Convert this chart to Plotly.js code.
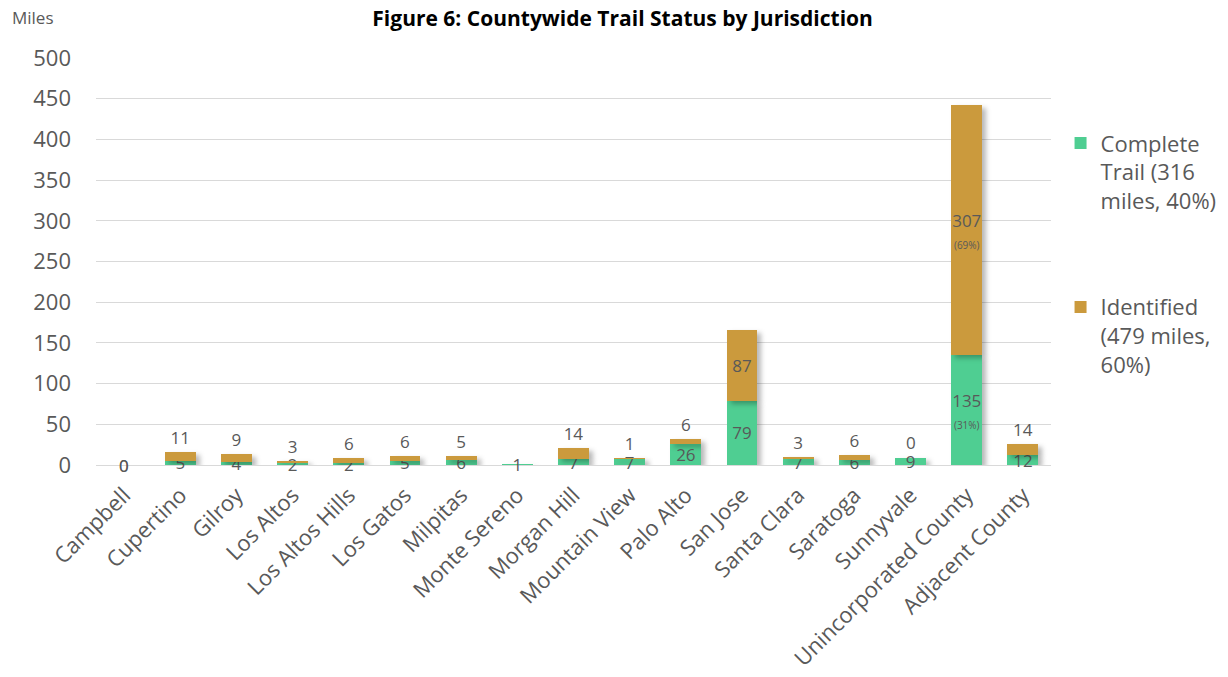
<!DOCTYPE html>
<html>
<head>
<meta charset="utf-8">
<script src="https://cdn.plot.ly/plotly-3.0.1.min.js"></script>
<style>
  html, body { margin: 0; padding: 0; background: #fff; }
  #chart { width: 1228px; height: 677px; }
  /* soft drop shadow behind every bar segment */
  #chart .barlayer .point path { filter: drop-shadow(4px 3px 2.5px rgba(0, 0, 0, 0.28)); }
</style>
</head>
<body>
<div id="chart"></div>
<script>
// Trail miles by jurisdiction
const jurisdictions = [
  'Campbell', 'Cupertino', 'Gilroy', 'Los Altos', 'Los Altos Hills', 'Los Gatos',
  'Milpitas', 'Monte Sereno', 'Morgan Hill', 'Mountain View', 'Palo Alto',
  'San Jose', 'Santa Clara', 'Saratoga', 'Sunnyvale', 'Unincorporated County',
  'Adjacent County'
];
const completeMiles   = [0, 5, 4, 2, 2, 5, 6, 1, 7, 7, 26, 79, 7, 6, 9, 135, 12];
const identifiedMiles = [0, 11, 9, 3, 6, 6, 5, 0, 14, 1, 6, 87, 3, 6, 0, 307, 14];
// segments whose label is left blank
const identifiedHidden = [false, false, false, false, false, false, false, true, false,
  false, false, false, false, false, false, false, false];
// share notes printed under a value
const completeShare   = ['', '', '', '', '', '', '', '', '', '', '', '', '', '', '', '(31%)', ''];
const identifiedShare = ['', '', '', '', '', '', '', '', '', '', '', '', '', '', '', '(69%)', ''];
const seriesNames = ['Complete<br>Trail (316<br>miles, 40%)', 'Identified<br>(479 miles,<br>60%)'];
const yTicks = [0, 50, 100, 150, 200, 250, 300, 350, 400, 450, 500];

const GREEN = '#4FCE92';
const GOLD = '#CB9A3D';
const TEXT = '#595959';
const FONT = 'Open Sans, sans-serif';
const LABEL_SIZE = 17;

function labelText(values, notes, hidden) {
  return values.map((v, i) => {
    if (hidden && hidden[i]) return '';
    return notes[i] ? `${v}<br><span style="font-size:10px">${notes[i]}</span>` : `${v}`;
  });
}

const labelFont = { family: FONT, size: LABEL_SIZE, color: TEXT };

const complete = {
  type: 'bar',
  name: seriesNames[0],
  legendgroup: 'complete',
  x: jurisdictions,
  y: completeMiles,
  marker: { color: GREEN },
  text: labelText(completeMiles, completeShare),
  textposition: 'inside',
  insidetextanchor: 'middle',
  textangle: 0,
  constraintext: 'none',
  textfont: labelFont,
  insidetextfont: labelFont,
  cliponaxis: false,
  hoverinfo: 'x+y'
};

const identified = {
  type: 'bar',
  name: seriesNames[1],
  legendgroup: 'identified',
  x: jurisdictions,
  y: identifiedMiles,
  marker: { color: GOLD },
  text: labelText(identifiedMiles, identifiedShare, identifiedHidden),
  textposition: 'auto',
  insidetextanchor: 'middle',
  textangle: 0,
  constraintext: 'none',
  textfont: labelFont,
  insidetextfont: labelFont,
  outsidetextfont: labelFont,
  cliponaxis: false,
  hoverinfo: 'x+y'
};

// zero-height segments get no bar text, so their "0" labels are annotations
const zeroLabels = [];
jurisdictions.forEach((name, i) => {
  const total = completeMiles[i] + identifiedMiles[i];
  if (completeMiles[i] === 0) {
    zeroLabels.push({
      x: name, y: 0, xref: 'x', yref: 'y', text: '0', showarrow: false,
      yanchor: 'middle', font: labelFont
    });
  }
  if (identifiedMiles[i] === 0 && !identifiedHidden[i]) {
    zeroLabels.push({
      x: name, y: total, xref: 'x', yref: 'y', text: '0', showarrow: false,
      yanchor: total === 0 ? 'middle' : 'bottom', yshift: total === 0 ? 0 : 2,
      font: labelFont
    });
  }
});

const layout = {
  width: 1228,
  height: 677,
  margin: { l: 96, r: 177, t: 58, b: 212, autoexpand: false },
  paper_bgcolor: '#ffffff',
  plot_bgcolor: '#ffffff',
  barmode: 'stack',
  bargap: 0.45,
  font: { family: FONT, color: TEXT },
  title: {
    text: '<b>Figure 6: Countywide Trail Status by Jurisdiction</b>',
    font: { family: FONT, size: 21, color: '#000000' },
    x: 0.507, xref: 'container', xanchor: 'center',
    y: 0.973, yref: 'container', yanchor: 'middle'
  },
  xaxis: {
    type: 'category',
    tickangle: -45,
    tickfont: { family: FONT, size: 22, color: TEXT },
    ticklabelstandoff: 12,
    showgrid: false,
    showline: false,
    ticks: '',
    zeroline: false,
    automargin: false
  },
  yaxis: {
    range: [0, 500],
    tickvals: yTicks,
    tickfont: { family: FONT, size: 22, color: TEXT },
    showgrid: true,
    gridcolor: '#D9D9D9',
    gridwidth: 1,
    zeroline: true,
    zerolinecolor: '#D9D9D9',
    zerolinewidth: 1,
    ticks: '',
    ticklabelstandoff: 24,
    automargin: false,
    fixedrange: true
  },
  legend: {
    x: 1.01, xanchor: 'left',
    y: 0.842, yanchor: 'top',
    traceorder: 'grouped',
    tracegroupgap: 75,
    valign: 'top',
    font: { family: FONT, size: 22, color: TEXT },
    itemwidth: 30
  },
  annotations: [
    {
      text: 'Miles',
      xref: 'paper', yref: 'paper',
      x: -0.0905, y: 1.1, xanchor: 'left', yanchor: 'middle',
      showarrow: false,
      font: { family: FONT, size: 17, color: TEXT }
    }
  ].concat(zeroLabels)
};

Plotly.newPlot('chart', [complete, identified], layout, { displayModeBar: false, staticPlot: true });
</script>
</body>
</html>
